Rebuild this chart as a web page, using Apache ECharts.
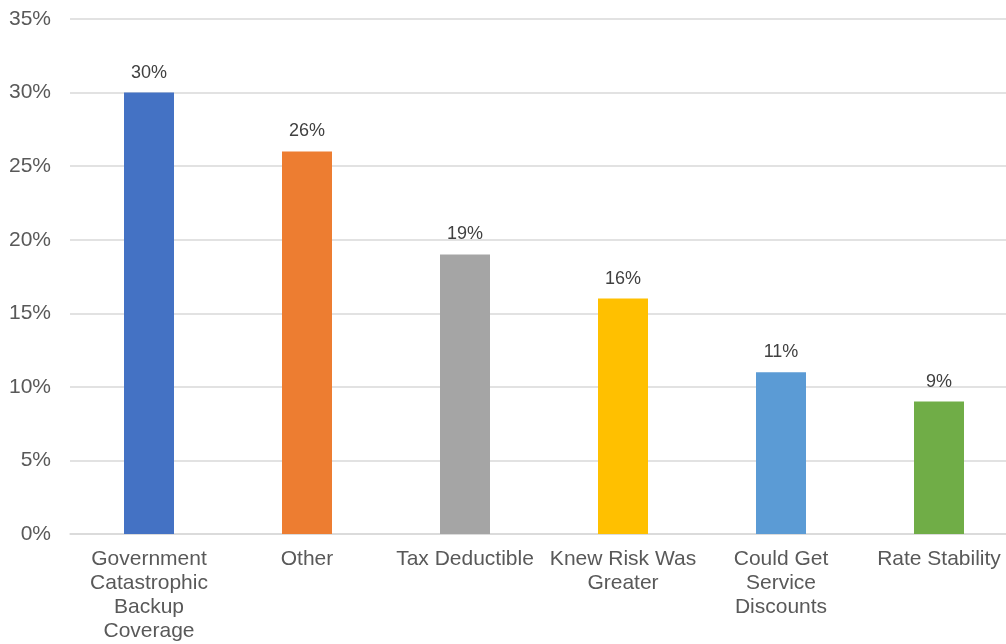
<!DOCTYPE html>
<html>
<head>
<meta charset="utf-8">
<script src="https://cdn.jsdelivr.net/npm/echarts@6/dist/echarts.min.js"></script>
<style>html,body{margin:0;padding:0;background:#fff;overflow:hidden;width:1006px;height:644px;}#c{width:1018px;height:644px;}</style>
</head>
<body>
<div id="c"></div>
<script>
var categories = ["Government\nCatastrophic\nBackup\nCoverage", "Other", "Tax Deductible", "Knew Risk Was\nGreater", "Could Get\nService\nDiscounts", "Rate Stability"];
var values = [30, 26, 19, 16, 11, 9];
var colors = ["#4472C4", "#ED7D31", "#A5A5A5", "#FFC000", "#5B9BD5", "#70AD47"];

var chart = echarts.init(document.getElementById('c'));
chart.setOption({
  animation: false,
  backgroundColor: '#ffffff',
  textStyle: { fontFamily: 'Liberation Sans, Arial, sans-serif' },
  grid: { left: 70, right: 0, top: 19, bottom: 110, containLabel: false },
  xAxis: {
    type: 'category',
    data: categories,
    axisLine: { show: true, lineStyle: { color: '#d9d9d9', width: 1.5 } },
    axisTick: { show: false },
    axisLabel: { interval: 0, color: '#595959', fontSize: 21, lineHeight: 24, margin: 13, fontFamily: 'Liberation Sans' }
  },
  yAxis: {
    type: 'value',
    min: 0, max: 35, interval: 5,
    axisLine: { show: false },
    axisTick: { show: false },
    splitLine: { lineStyle: { color: '#d9d9d9', width: 1.5 } },
    axisLabel: { color: '#595959', fontSize: 21, margin: 19, formatter: '{value}%', fontFamily: 'Liberation Sans' }
  },
  series: [{
    type: 'bar',
    barWidth: 50,
    data: values.map(function (v, i) { return { value: v, itemStyle: { color: colors[i] } }; }),
    label: { show: true, position: 'top', distance: 11, color: '#404040', fontSize: 18, formatter: '{c}%', fontFamily: 'Liberation Sans' }
  }]
});
</script>
</body>
</html>
